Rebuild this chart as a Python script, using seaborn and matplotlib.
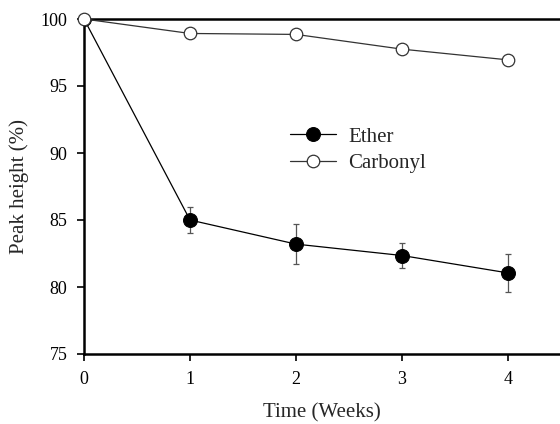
import matplotlib
matplotlib.use("Agg")
import matplotlib.pyplot as plt
import seaborn as sns
import pandas as pd

weeks = [0, 1, 2, 3, 4]
ether = [100.0, 85.0, 83.2, 82.35, 81.05]
ether_err = [0.0, 0.95, 1.5, 0.9, 1.4]
carbonyl = [100.0, 98.92, 98.85, 97.75, 96.95]
x_ticks = [0, 1, 2, 3, 4]
y_ticks = [75, 80, 85, 90, 95, 100]

sns.set_style("ticks")
plt.rcParams['font.family'] = ['Liberation Serif', 'DejaVu Serif']

fig = plt.figure(figsize=(5.6, 4.24), dpi=100)
ax = fig.add_axes([84/560, 1-354/424, 1-84/560, (354-19)/424])

df = pd.DataFrame({"Time": weeks * 2,
                   "Value": ether + carbonyl,
                   "Series": ["Ether"] * len(weeks) + ["Carbonyl"] * len(weeks)})

ax.errorbar(weeks[1:], ether[1:], yerr=ether_err[1:], fmt='none', ecolor='#555555',
            elinewidth=0.9, capsize=2.5, capthick=0.9, zorder=2)

sns.lineplot(data=df[df.Series == "Ether"], x="Time", y="Value", ax=ax, color='black',
             lw=0.9, marker='o', markersize=10, markerfacecolor='black',
             markeredgecolor='black', label="Ether", zorder=3)
sns.lineplot(data=df[df.Series == "Carbonyl"], x="Time", y="Value", ax=ax, color='#333333',
             lw=0.9, marker='o', markersize=9, markerfacecolor='white',
             markeredgecolor='#333333', markeredgewidth=0.9, label="Carbonyl", zorder=4,
             clip_on=False)

ax.set_xlim(0, 4.49)
ax.set_ylim(75, 100)
ax.set_xticks(x_ticks)
ax.set_yticks(y_ticks)
ax.tick_params(direction='out', length=5, width=1.2, labelsize=13, pad=7, colors='black')
for s in ['left', 'bottom', 'top']:
    ax.spines[s].set_linewidth(1.8)
    ax.spines[s].set_color('black')
ax.spines['right'].set_visible(False)

ax.set_xlabel("Time (Weeks)", fontsize=15, labelpad=11.5)
ax.set_ylabel("Peak height (%)", fontsize=15, labelpad=8)

leg = ax.legend(loc='upper left', bbox_to_anchor=(0.393, 0.733), frameon=False,
                fontsize=15, handlelength=2.2, handletextpad=0.6, labelspacing=0.33)

fig.savefig("out.png", dpi=100)
